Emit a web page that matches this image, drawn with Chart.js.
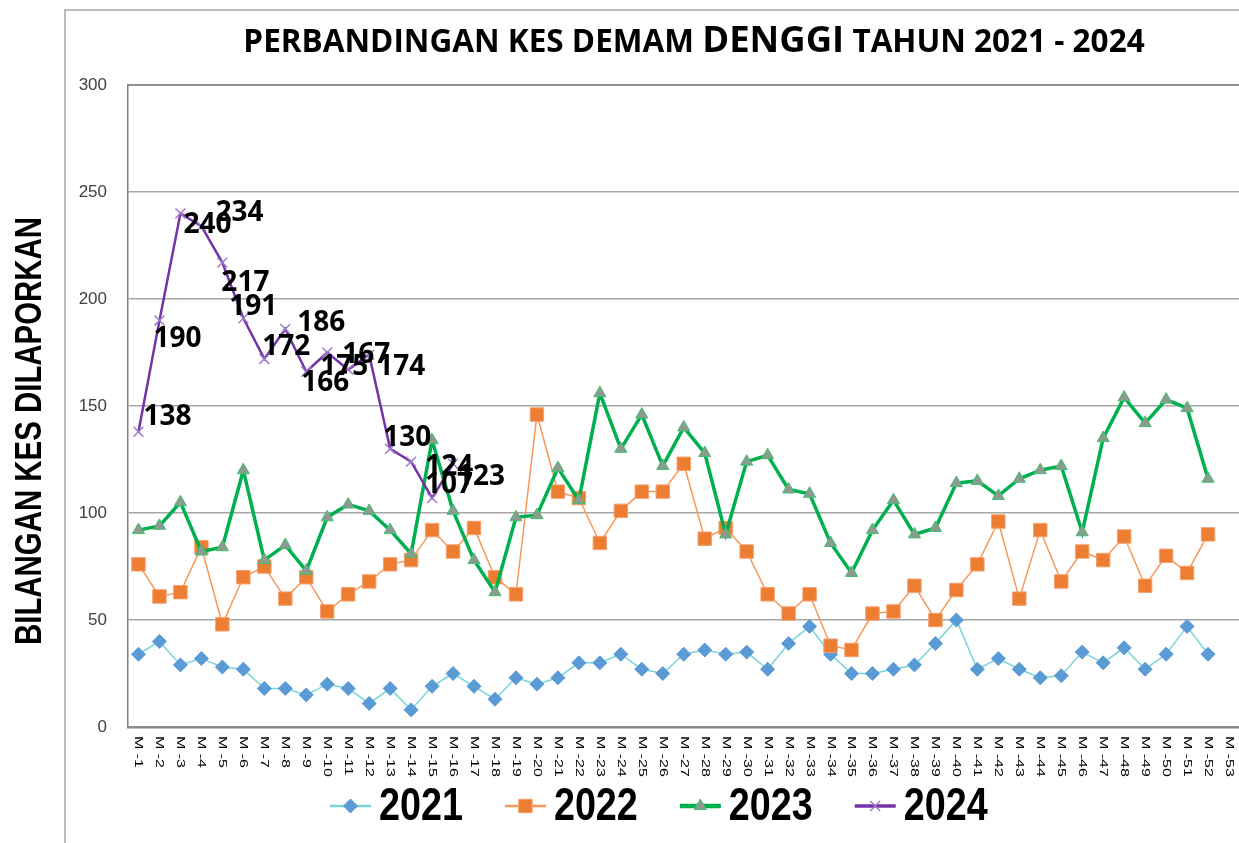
<!DOCTYPE html>
<html>
<head>
<meta charset="utf-8">
<script src="https://cdn.jsdelivr.net/npm/chart.js@4/dist/chart.umd.min.js"></script>
<style>
	html, body { margin: 0; padding: 0; background: #ffffff; overflow: hidden; }
	#wrap { width: 1250px; height: 843px; }
</style>
</head>
<body>
<div id="wrap"><canvas id="dengueChart" width="1250" height="843"></canvas></div>
<script>
const weeks = Array.from({ length: 53 }, (_, i) => "M -" + (i + 1));
const yearNames = ["2021", "2022", "2023", "2024"];
const cases2021 = [34, 40, 29, 32, 28, 27, 18, 18, 15, 20, 18, 11, 18, 8, 19, 25, 19, 13, 23, 20, 23, 30, 30, 34, 27, 25, 34, 36, 34, 35, 27, 39, 47, 34, 25, 25, 27, 29, 39, 50, 27, 32, 27, 23, 24, 35, 30, 37, 27, 34, 47, 34];
const cases2022 = [76, 61, 63, 84, 48, 70, 75, 60, 70, 54, 62, 68, 76, 78, 92, 82, 93, 70, 62, 146, 110, 107, 86, 101, 110, 110, 123, 88, 93, 82, 62, 53, 62, 38, 36, 53, 54, 66, 50, 64, 76, 96, 60, 92, 68, 82, 78, 89, 66, 80, 72, 90];
const cases2023 = [92, 94, 105, 82, 84, 120, 78, 85, 73, 98, 104, 101, 92, 81, 134, 101, 78, 63, 98, 99, 121, 106, 156, 130, 146, 122, 140, 128, 90, 124, 127, 111, 109, 86, 72, 92, 106, 90, 93, 114, 115, 108, 116, 120, 122, 91, 135, 154, 142, 153, 149, 116];
const cases2024 = [138, 190, 240, 234, 217, 191, 172, 186, 166, 175, 167, 174, 130, 124, 107, 123];
const yTicks = [0, 50, 100, 150, 200, 250, 300];

// hand placement of the 2024 value labels (dx, dy from the point), as in the source
const labelNudge = [[5, -15], [-6, 19], [3, 12], [14, -13], [-1, 20], [-14, -11], [-2, -12], [12, -6], [-5, 11], [-7, 15], [-6, -15], [8, 12], [-7, -11], [14, 5], [-7, -13], [4, 13]];

const frameColor = "#a6a6a6";

// draws text squeezed sideways, the source uses a condensed face
function narrowText(ctx, text, x, y, squeeze) {
	ctx.save();
	ctx.translate(x, y);
	ctx.scale(squeeze, 1);
	ctx.fillText(text, 0, 0);
	ctx.restore();
	return ctx.measureText(text).width * squeeze;
}

const decorPlugin = {
	id: "decor",
	beforeDraw(chart) {
		const ctx = chart.ctx;
		ctx.save();
		ctx.fillStyle = "#ffffff";
		ctx.fillRect(0, 0, chart.width, chart.height);
		// outer chart frame
		ctx.strokeStyle = frameColor;
		ctx.lineWidth = 1.5;
		ctx.beginPath();
		ctx.moveTo(65, chart.height);
		ctx.lineTo(65, 10);
		ctx.lineTo(chart.width, 10);
		ctx.stroke();
		ctx.restore();
	},
	afterDatasetsDraw(chart) {
		const ctx = chart.ctx;
		const area = chart.chartArea;
		const xs = chart.scales.x;
		ctx.save();

		// top edge of plot box
		ctx.strokeStyle = "#808080";
		ctx.lineWidth = 1.5;
		ctx.beginPath();
		ctx.moveTo(area.left, area.top);
		ctx.lineTo(area.right, area.top);
		ctx.stroke();

		// title with larger DENGGI
		const parts = [
			{ t: "PERBANDINGAN KES DEMAM ", s: 31.5 },
			{ t: "DENGGI", s: 36.5 },
			{ t: " TAHUN 2021 - 2024", s: 31.5 },
		];
		let total = 0;
		parts.forEach((p) => {
			ctx.font = "bold " + p.s + "px 'Open Sans'";
			p.w = ctx.measureText(p.t).width;
			total += p.w;
		});
		let tx = 694 - total / 2;
		ctx.fillStyle = "#000000";
		ctx.textBaseline = "alphabetic";
		ctx.textAlign = "left";
		parts.forEach((p) => {
			ctx.font = "bold " + p.s + "px 'Open Sans'";
			ctx.fillText(p.t, tx, 52);
			tx += p.w;
		});

		// y axis title, outside the frame
		ctx.save();
		ctx.translate(31, 431);
		ctx.rotate(-Math.PI / 2);
		ctx.font = "bold 36px 'Liberation Sans'";
		const yw = ctx.measureText("BILANGAN KES DILAPORKAN").width;
		ctx.scale(428 / yw, 1);
		ctx.textAlign = "center";
		ctx.textBaseline = "middle";
		ctx.fillText("BILANGAN KES DILAPORKAN", 0, 0);
		ctx.restore();

		// week labels, reading top to bottom
		ctx.font = "11px 'Liberation Sans'";
		ctx.fillStyle = "#000000";
		weeks.forEach((w, i) => {
			const x = xs.getPixelForValue(i);
			ctx.save();
			ctx.translate(x, area.bottom + 9);
			ctx.rotate(Math.PI / 2);
			ctx.scale(1.45, 1);
			ctx.textAlign = "left";
			ctx.textBaseline = "middle";
			ctx.fillText(w, 0, 0);
			ctx.restore();
		});

		// 2024 value labels
		const meta = chart.getDatasetMeta(3);
		ctx.font = "bold 28px 'Open Sans'";
		ctx.textAlign = "left";
		ctx.textBaseline = "middle";
		meta.data.forEach((pt, i) => {
			const n = labelNudge[i] || [6, 0];
			ctx.fillText(String(cases2024[i]), pt.x + n[0], pt.y + n[1]);
		});

		// legend
		const ly = 806;
		let lx = 330;
		chart.data.datasets.forEach((ds) => {
			ctx.strokeStyle = ds.borderColor;
			ctx.lineWidth = ds.borderWidth + 1;
			ctx.beginPath();
			ctx.moveTo(lx, ly);
			ctx.lineTo(lx + 41, ly);
			ctx.stroke();
			ctx.fillStyle = ds.pointBackgroundColor;
			ctx.strokeStyle = ds.pointBorderColor;
			ctx.lineWidth = ds.pointBorderWidth;
			Chart.helpers.drawPoint(ctx, { pointStyle: ds.pointStyle, radius: ds.pointRadius, borderWidth: ds.pointBorderWidth, rotation: 0 }, lx + 20.5, ly);
			ctx.fillStyle = "#000000";
			ctx.textAlign = "left";
			ctx.textBaseline = "middle";
			ctx.font = "bold 46px 'Liberation Sans'";
			const tw = narrowText(ctx, ds.label, lx + 49, ly + 1, 0.82);
			lx += 49 + tw + 42;
		});

		ctx.restore();
	},
};

const ctx = document.getElementById("dengueChart").getContext("2d");

new Chart(ctx, {
	type: "line",
	data: {
		labels: weeks,
		datasets: [
			{
				label: yearNames[0],
				data: cases2021,
				borderColor: "#78d5da",
				borderWidth: 1.5,
				pointStyle: "rectRot",
				pointRadius: 7,
				pointBackgroundColor: "#5b9bd5",
				pointBorderColor: "#5b9bd5",
				pointBorderWidth: 1,
				order: 4,
			},
			{
				label: yearNames[1],
				data: cases2022,
				borderColor: "#f7985a",
				borderWidth: 1.5,
				pointStyle: "rect",
				pointRadius: 9.5,
				pointBackgroundColor: "#ed7d31",
				pointBorderColor: "#f4a070",
				pointBorderWidth: 1,
				order: 3,
			},
			{
				label: yearNames[2],
				data: cases2023,
				borderColor: "#00b050",
				borderWidth: 3.5,
				pointStyle: "triangle",
				pointRadius: 7,
				pointBackgroundColor: "#8e9a90",
				pointBorderColor: "#3cc070",
				pointBorderWidth: 1,
				order: 2,
			},
			{
				label: yearNames[3],
				data: cases2024,
				borderColor: "#7434a8",
				borderWidth: 2.5,
				pointStyle: "crossRot",
				pointRadius: 7,
				pointBackgroundColor: "#a07cc8",
				pointBorderColor: "#a07cc8",
				pointBorderWidth: 1.5,
				order: 1,
			},
		],
	},
	options: {
		responsive: false,
		animation: false,
		devicePixelRatio: 1,
		layout: { padding: { left: 65, top: 85, right: 7, bottom: 0 } },
		plugins: {
			legend: { display: false },
			title: { display: false },
			tooltip: { enabled: false },
		},
		scales: {
			x: {
				offset: true,
				grid: { display: false, drawTicks: false },
				border: { display: true, color: "#8c8c8c", width: 2.5 },
				ticks: { display: false },
				afterFit(scale) {
					scale.height = 116;
				},
			},
			y: {
				min: 0,
				max: 300,
				afterBuildTicks(scale) {
					scale.ticks = yTicks.map((v) => ({ value: v }));
				},
				grid: { color: "#a6a6a6", lineWidth: 1.5, drawTicks: false },
				border: { display: true, color: "#808080", width: 1.5 },
				ticks: {
					padding: 21,
					color: "#404040",
					font: { family: "'Liberation Sans'", size: 17 },
				},
				afterFit(scale) {
					scale.width = 63;
				},
			},
		},
	},
	plugins: [decorPlugin],
});
</script>
</body>
</html>
